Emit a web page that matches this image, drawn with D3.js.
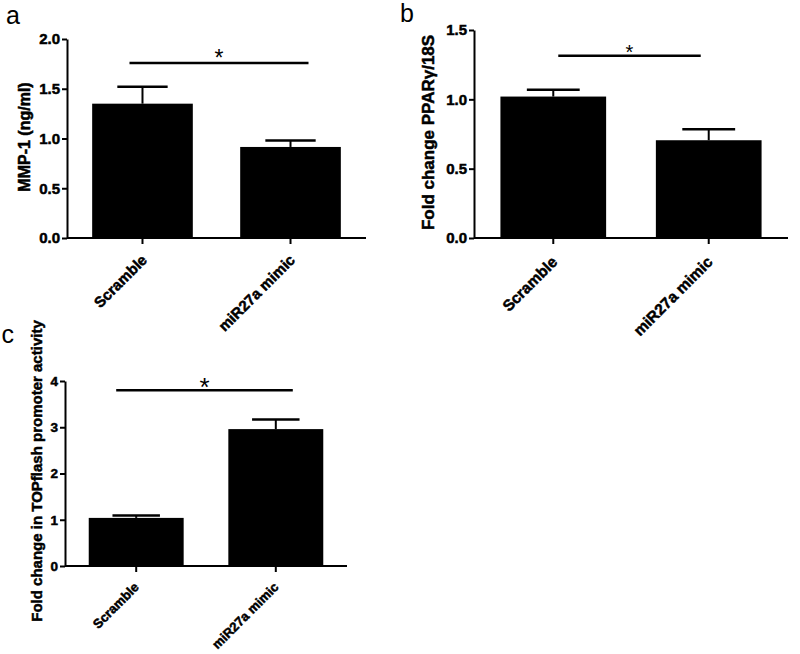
<!DOCTYPE html>
<html>
<head>
<meta charset="utf-8">
<script src="https://cdn.jsdelivr.net/npm/d3@7"></script>
<style>
  body { margin: 0; background: #fff; }
  svg { font-family: Arial, "Liberation Sans", sans-serif; }
  .axis path, .axis line { stroke: #000; stroke-width: 2px; }
  .axis text, .title { fill: #000; font-weight: bold; stroke: #000; stroke-width: 0.5px; }
</style>
</head>
<body>
<div class="chart"></div>
<script>
const categories = ["Scramble", "miR27a mimic"];

// panel a: MMP-1
const mmpValues = [1.35, 0.915];
const mmpErrors = [0.17, 0.065];
const mmpTicks = [0, 0.5, 1.0, 1.5, 2.0];
const mmpSig = 1.76;

// panel b: PPARγ
const pparValues = [1.02, 0.705];
const pparErrors = [0.05, 0.08];
const pparTicks = [0, 0.5, 1.0, 1.5];
const pparSig = 1.315;

// panel c: TOPflash
const topValues = [1.04, 2.96];
const topErrors = [0.05, 0.21];
const topTicks = [0, 1, 2, 3, 4];
const topSig = 3.8;

const width = 800, height = 654;

let svg = d3.select(".chart").append("svg")
  .attr("width", width)
  .attr("height", height);

svg.append("rect").attr("width", width).attr("height", height).attr("fill", "#fff");

function drawPanel(p) {
  let g = svg.append("g");

  let x = d3.scaleBand()
    .domain(categories)
    .range([p.left, p.right])
    .paddingInner(0.32)
    .paddingOuter(0.17);
  let y = d3.scaleLinear()
    .domain([0, d3.max(p.ticks)])
    .range([p.bottom, p.top]);

  // bars
  g.selectAll(".bar")
    .data(p.values)
    .enter().append("rect")
      .attr("x", (d, i) => x(categories[i]))
      .attr("width", x.bandwidth())
      .attr("y", (d) => y(d))
      .attr("height", (d) => p.bottom - y(d))
      .attr("fill", "#000");

  // error bars (upper only)
  let capW = x.bandwidth() / 2;
  p.values.forEach((v, i) => {
    let cx = x(categories[i]) + x.bandwidth() / 2;
    g.append("line")
      .attr("x1", cx).attr("x2", cx)
      .attr("y1", y(v)).attr("y2", y(v + p.errors[i]))
      .attr("stroke", "#000").attr("stroke-width", 2);
    g.append("line")
      .attr("x1", cx - capW / 2).attr("x2", cx + capW / 2)
      .attr("y1", y(v + p.errors[i])).attr("y2", y(v + p.errors[i]))
      .attr("stroke", "#000").attr("stroke-width", 2.5);
  });

  // axes
  let yAxis = g.append("g")
    .attr("class", "axis")
    .attr("transform", "translate(" + p.left + ",0)")
    .call(d3.axisLeft(y).tickValues(p.ticks).tickFormat(p.format).tickSize(5).tickSizeOuter(0).tickPadding(2));
  yAxis.selectAll("text").style("font-size", p.tickFont + "px");

  let xAxis = g.append("g")
    .attr("class", "axis")
    .attr("transform", "translate(0," + p.bottom + ")")
    .call(d3.axisBottom(x).tickSize(6).tickSizeOuter(0));
  xAxis.selectAll("text")
    .style("font-size", p.catFont + "px")
    .attr("text-anchor", "end")
    .attr("y", 0).attr("dy", 0)
    .attr("transform", "translate(" + p.catDx + "," + p.catDy + ") rotate(-45)");
  xAxis.select(".domain").attr("d", "M" + p.left + ",0H" + p.right);

  // axis title
  g.append("text")
    .attr("class", "title")
    .attr("transform", "translate(" + p.titleX + "," + ((p.top + p.bottom) / 2 + p.titleShift) + ") rotate(-90)")
    .attr("text-anchor", "middle")
    .style("font-size", p.titleFont + "px")
    .text(p.title);

  // significance
  let c0 = x(categories[0]) + x.bandwidth() / 2;
  let c1 = x(categories[1]) + x.bandwidth() / 2;
  g.append("line")
    .attr("x1", c0 + p.sigFrom).attr("x2", c1 + p.sigTo)
    .attr("y1", y(p.sig)).attr("y2", y(p.sig))
    .attr("stroke", "#000").attr("stroke-width", 2.5);
  g.append("text")
    .attr("x", (c0 + p.sigFrom + c1 + p.sigTo) / 2)
    .attr("y", y(p.sig) + p.starDy)
    .attr("text-anchor", "middle")
    .style("font-size", p.starFont + "px")
    .text("*");

  // panel letter
  g.append("text")
    .attr("x", p.letterX).attr("y", p.letterY)
    .style("font-size", "25px")
    .text(p.letter);
}

drawPanel({
  letter: "a", letterX: 6, letterY: 23.5,
  values: mmpValues, errors: mmpErrors, ticks: mmpTicks, sig: mmpSig,
  format: d3.format(".1f"),
  left: 67, right: 366, top: 39, bottom: 238,
  title: "MMP-1 (ng/ml)", titleX: 30, titleShift: -1.5, titleFont: 16,
  tickFont: 15, catFont: 15, catDx: 5.5, catDy: 23,
  sigFrom: -13, sigTo: 18, starDy: 3, starFont: 23
});

drawPanel({
  letter: "b", letterX: 400, letterY: 21.5,
  values: pparValues, errors: pparErrors, ticks: pparTicks, sig: pparSig,
  format: d3.format(".1f"),
  left: 474, right: 788, top: 30, bottom: 238,
  title: "Fold change PPARγ/18S", titleX: 434, titleShift: -1.5, titleFont: 17,
  tickFont: 15, catFont: 15.5, catDx: 5, catDy: 25,
  sigFrom: 5, sigTo: -8, starDy: 3, starFont: 20
});

drawPanel({
  letter: "c", letterX: 1.5, letterY: 342.5,
  values: topValues, errors: topErrors, ticks: topTicks, sig: topSig,
  format: d3.format("d"),
  left: 65, right: 347, top: 381, bottom: 566,
  title: "Fold change in TOPflash promoter activity", titleX: 42, titleShift: -2.5, titleFont: 15,
  tickFont: 13.5, catFont: 13, catDx: 3.5, catDy: 22,
  sigFrom: -20, sigTo: 17, starDy: 6, starFont: 26
});
</script>
</body>
</html>
